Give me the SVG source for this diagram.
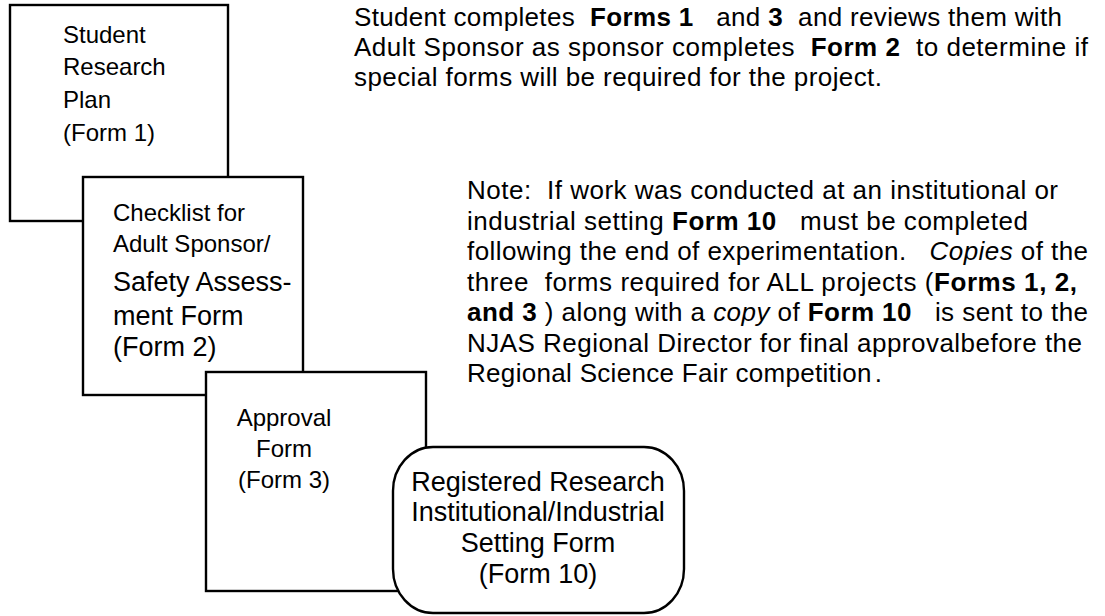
<svg xmlns="http://www.w3.org/2000/svg" width="1105" height="616" viewBox="0 0 1105 616">
<style>
.box{fill:#fff;stroke:#000;stroke-width:2.4}
text{font-family:"Liberation Sans",Arial,sans-serif;fill:#000}
.s24{font-size:24px}
.s27{font-size:27px}
.p{font-size:26px;white-space:pre}
.b{font-weight:bold}
.i{font-style:italic}
.c{text-anchor:middle}
</style>
<rect width="1105" height="616" fill="#fff"/>
<g id="form1">
<rect class="box" x="10" y="5" width="218" height="216"/>
<text class="s24" x="63" y="43">Student</text>
<text class="s24" x="63" y="75">Research</text>
<text class="s24" x="63" y="108">Plan</text>
<text class="s24" x="63" y="141">(Form 1)</text>
</g>
<g id="form2">
<rect class="box" x="83" y="177" width="220" height="218"/>
<text class="s24" x="113" y="221">Checklist for</text>
<text class="s24" x="113" y="252">Adult Sponsor/</text>
<text class="s27" x="113" y="291">Safety Assess-</text>
<text class="s27" x="113" y="325">ment Form</text>
<text class="s27" x="113" y="356">(Form 2)</text>
</g>
<g id="form3">
<rect class="box" x="206" y="372" width="220" height="219"/>
<text class="s24 c" x="284" y="426">Approval</text>
<text class="s24 c" x="284" y="457">Form</text>
<text class="s24 c" x="284" y="488">(Form 3)</text>
</g>
<g id="form10">
<rect class="box" x="393" y="447" width="291" height="166" rx="40" ry="44"/>
<text class="s27 c" x="538" y="491">Registered Research</text>
<text class="s27 c" x="538" y="521">Institutional/Industrial</text>
<text class="s27 c" x="538" y="552">Setting Form</text>
<text class="s27 c" x="538" y="583">(Form 10)</text>
</g>
<g id="connectors"></g>
<g id="instructions">
<text class="p" x="354" y="26" textLength="708" lengthAdjust="spacing">Student completes  <tspan class="b">Forms 1</tspan>   and <tspan class="b">3</tspan>  and reviews them with</text>
<text class="p" x="354" y="56" textLength="734" lengthAdjust="spacing">Adult Sponsor as sponsor completes  <tspan class="b">Form 2</tspan>  to determine if</text>
<text class="p" x="354" y="86" textLength="528" lengthAdjust="spacing">special forms will be required for the project.</text>
</g>
<g id="note">
<text class="p" x="467" y="199" textLength="591" lengthAdjust="spacing">Note:  If work was conducted at an institutional or</text>
<text class="p" x="467" y="229.5" textLength="561" lengthAdjust="spacing">industrial setting <tspan class="b">Form 10</tspan>   must be completed</text>
<text class="p" x="467" y="260" textLength="621" lengthAdjust="spacing">following the end of experimentation.   <tspan class="i">Copies</tspan> of the</text>
<text class="p" x="467" y="290.5" textLength="610" lengthAdjust="spacing">three  forms required for ALL projects (<tspan class="b">Forms 1, 2,</tspan></text>
<text class="p" x="467" y="321" textLength="621" lengthAdjust="spacing"><tspan class="b">and 3</tspan> ) along with a <tspan class="i">copy</tspan> of <tspan class="b">Form 10</tspan>   is sent to the</text>
<text class="p" x="467" y="351.5" textLength="615" lengthAdjust="spacing">NJAS Regional Director for final approvalbefore the</text>
<text class="p" x="467" y="382" textLength="415" lengthAdjust="spacing">Regional Science Fair competition<tspan dx="3">.</tspan></text>
</g>
</svg>
